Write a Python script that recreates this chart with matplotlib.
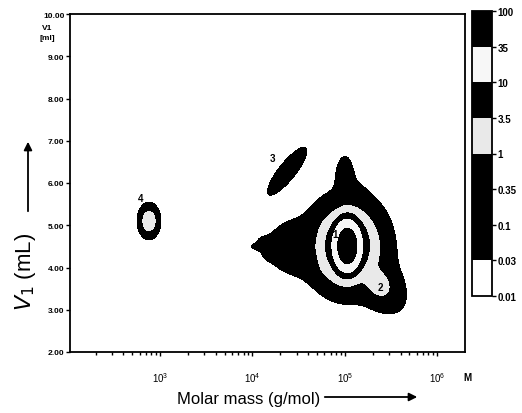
import numpy as np
import matplotlib
matplotlib.use("Agg")
import matplotlib.pyplot as plt

plt.rcParams["font.family"] = ["Liberation Sans", "DejaVu Sans"]

# contour levels and band colours (bottom -> top)
levels = [0.01, 0.03, 0.1, 0.35, 1, 3.5, 10, 35, 100]
level_labels = ["0.01", "0.03", "0.1", "0.35", "1", "3.5", "10", "35", "100"]
band_colors = ["white", "black", "black", "black", "#e9e9e9", "black", "#f7f7f7", "black"]

# peaks: log10(M), V1 (mL), widths, height, tilt
# main peak (core + shoulder), the skirt around it, peak 2, peak 3, peak 4
peak_logm = [5.026, 5.026, 5.275, 5.004, 4.553, 4.665, 4.463, 4.35, 5.362, 4.376, 2.88]
peak_v1 = [4.51, 4.51, 4.675, 6.00, 4.874, 3.964, 4.485, 4.49, 3.609, 6.28, 5.10]
peak_sig_logm = [0.067, 0.152, 0.157, 0.0433, 0.201, 0.274, 0.13, 0.20, 0.0997, 0.0835, 0.042]
peak_sig_v1 = [0.28, 0.40, 0.70, 0.284, 0.314, 0.343, 0.284, 0.06, 0.237, 0.221, 0.145]
peak_height = [88, 11, 0.3, 0.3, 0.2, 0.3, 0.3, 0.12, 1.8, 0.8, 3.4]
peak_rho = [0, 0, -0.802, 0, 0.845, -0.882, 0, 0, -0.298, 0.847, 0]

spot_names = ["1", "2", "3", "4"]
spot_logm = [4.896, 5.384, 4.213, 2.794]
spot_v1 = [4.79, 3.54, 6.59, 5.645]

xticks = [1e3, 1e4, 1e5, 1e6]
yticks = [2, 3, 4, 5, 6, 7, 8, 9, 10]

lx = np.linspace(2.0, 6.4, 700)
vv = np.linspace(2.0, 10.0, 700)
LX, VV = np.meshgrid(lx, vv)
Z = np.zeros_like(LX)
for m, v, sx, sy, h, r in zip(peak_logm, peak_v1, peak_sig_logm, peak_sig_v1, peak_height, peak_rho):
    u = (LX - m) / sx
    w = (VV - v) / sy
    Z += h * np.exp(-(u * u - 2 * r * u * w + w * w) / (2 * (1 - r * r)))
Z = np.clip(Z, 0, 99.9)

fig = plt.figure(figsize=(5.22, 4.14), dpi=100)
ax = fig.add_axes([70 / 522, 1 - 353 / 414, 395 / 522, 338 / 414])
cs = ax.contourf(10 ** LX, VV, Z, levels=levels, colors=band_colors)
ax.set_xscale("log")
ax.set_xlim(10 ** 2.025, 10 ** 6.30)
ax.set_ylim(2, 10)

for name, m, v in zip(spot_names, spot_logm, spot_v1):
    ax.text(10 ** m, v, name, fontsize=7, fontweight="bold", ha="center", va="center")

ax.set_xticks(xticks)
ax.tick_params(axis="x", which="major", direction="out", length=3, width=1, pad=10, labelsize=7)
ax.tick_params(axis="x", which="minor", direction="out", length=2.5, width=1)
ax.set_yticks(yticks)
ax.set_yticklabels([f"{t}.00" for t in yticks], fontsize=6, fontweight="bold")
ax.tick_params(axis="y", direction="out", length=3, width=1, pad=1)
for s in ax.spines.values():
    s.set_linewidth(1.3)

cax = fig.add_axes([472 / 522, 1 - 297 / 414, 20 / 522, 285 / 414])
cbar = fig.colorbar(cs, cax=cax, ticks=levels)
cbar.ax.set_yticklabels(level_labels, fontsize=7, fontweight="bold")
cbar.ax.tick_params(length=3, width=1, pad=1)
cbar.outline.set_linewidth(1.3)

fig.text(47 / 522, 1 - 28 / 414, "V1", fontsize=6, fontweight="bold", ha="center", va="center")
fig.text(47 / 522, 1 - 38 / 414, "[ml]", fontsize=6, fontweight="bold", ha="center", va="center")
fig.text(467 / 522, 1 - 378 / 414, "M", fontsize=7, fontweight="bold", ha="center", va="center")

fig.text(26 / 522, 1 - 272 / 414, "$V_1$ (mL)", fontsize=16, rotation=90, ha="center", va="center")
fig.add_artist(matplotlib.patches.FancyArrowPatch(
    (28 / 522, 1 - 215 / 414), (28 / 522, 1 - 140 / 414), transform=fig.transFigure,
    arrowstyle="-|>", mutation_scale=12, color="black", lw=1.3))

fig.text(249 / 522, 1 - 400 / 414, "Molar mass (g/mol)", fontsize=12, ha="center", va="center")
fig.add_artist(matplotlib.patches.FancyArrowPatch(
    (322 / 522, 1 - 398 / 414), (420 / 522, 1 - 398 / 414), transform=fig.transFigure,
    arrowstyle="-|>", mutation_scale=12, color="black", lw=1.3))

fig.savefig("out.png", dpi=100)
